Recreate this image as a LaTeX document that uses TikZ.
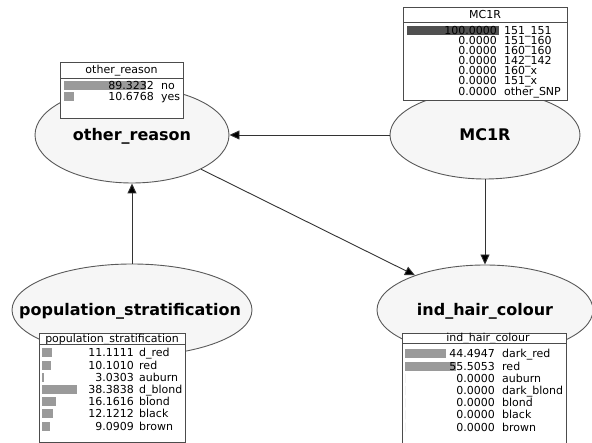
\documentclass[tikz,border=0pt]{standalone}
\usepackage{fontspec}
\setmainfont{DejaVu Sans}
\usepackage{tikz}
\usetikzlibrary{arrows.meta,shapes.geometric}
\tikzset{>={Triangle[length=10pt,width=9pt]}}
\definecolor{varfill}{HTML}{F6F6F6}
\definecolor{barfill}{HTML}{9A9A9A}
\definecolor{evidfill}{HTML}{505050}
\tikzset{
  var/.style={ellipse, draw=black!65, fill=varfill, line width=0.9pt, inner sep=0pt},
  varname/.style={anchor=base, inner sep=0pt, font=\bfseries\fontsize{16}{16}\selectfont},
  monitor/.style={rectangle, draw=black!70, fill=white, line width=0.9pt, anchor=north west, inner sep=0pt},
  mtitle/.style={anchor=base, inner sep=0pt, font=\fontsize{11}{11}\selectfont},
  mval/.style={anchor=base east, inner sep=0pt, font=\fontsize{11}{11}\selectfont},
  mstate/.style={anchor=base west, inner sep=0pt, font=\fontsize{11}{11}\selectfont},
  link/.style={draw=black!80, line width=0.9pt, ->},
}
\begin{document}
\begin{tikzpicture}[x=1pt,y=-1pt]
  \useasboundingbox (0,0) rectangle (592,443);
  \clip (0,0) rectangle (592,443);

  % variables
  \node[var, minimum width=194pt, minimum height=96pt] (orsn) at (132,135) {};
  \node[var, minimum width=190pt, minimum height=88pt] (mc1r) at (485,135) {};
  \node[var, minimum width=240pt, minimum height=92pt] (pops) at (132,310) {};
  \node[var, minimum width=216pt, minimum height=90pt] (hair) at (485,310) {};
  \node[varname] (orsn-l) at (132,140.5) {other\_reason};
  \node[varname] (mc1r-l) at (485,140.5) {MC1R};
  \node[varname] (pops-l) at (130,315.5) {population\_stratification};
  \node[varname] (hair-l) at (485,315.5) {ind\_hair\_colour};

  % links
  \path[link] (mc1r) edge (orsn);
  \path[link] (pops) edge (orsn);
  \path[link] (orsn) edge (hair);
  \path[link] (mc1r) edge (hair);

  % monitor windows
  \begin{scope}[shift={(60,62)}]
    \node[monitor, minimum width=123pt, minimum height=56pt] (orbox) at (0,0) {};
    \node[mtitle] (ortitle) at (61.5,12) {other\_reason};
    \draw[black!70, line width=0.9pt] (0,16) -- (123,16);
    \foreach \p/\v/\s [count=\i from 0] in {89.3232/89.3232/no, 10.6768/10.6768/yes} {
      \fill[barfill] (4,{24+\i*11-4.5}) rectangle ({4+0.92*\p},{24+\i*11+4.5});
      \node[mval] (orv\i) at (94,{24+\i*11+4}) {\v};
      \node[mstate] (ors\i) at (101,{24+\i*11+4}) {\s};
    }
  \end{scope}

  \begin{scope}[shift={(403,7)}]
    \node[monitor, minimum width=164pt, minimum height=93pt] (mcbox) at (0,0) {};
    \node[mtitle] (mctitle) at (82,12) {MC1R};
    \draw[black!70, line width=0.9pt] (0,15) -- (164,15);
    \fill[evidfill] (4,{23.5-4.5}) rectangle (96,{23.5+4.5});
    \foreach \v/\s [count=\i from 0] in {100.0000/151\_151, 0.0000/151\_160, 0.0000/160\_160,
        0.0000/142\_142, 0.0000/160\_x, 0.0000/151\_x, 0.0000/other\_SNP} {
      \node[mval] (mcv\i) at (94,{23.5+\i*10.1+4}) {\v};
      \node[mstate] (mcs\i) at (101,{23.5+\i*10.1+4}) {\s};
    }
  \end{scope}

  \begin{scope}[shift={(39,333)}]
    \node[monitor, minimum width=146pt, minimum height=109pt] (popbox) at (0,0) {};
    \node[mtitle] (poptitle) at (73,9.5) {population\_stratification};
    \draw[black!70, line width=0.9pt] (0,11) -- (146,11);
    \foreach \p/\v/\s [count=\i from 0] in {11.1111/11.1111/d\_red, 10.1010/10.1010/red,
        3.0303/3.0303/auburn, 38.3838/38.3838/d\_blond, 16.1616/16.1616/blond,
        12.1212/12.1212/black, 9.0909/9.0909/brown} {
      \fill[barfill] (2.5,{20+\i*12.2-4.5}) rectangle ({2.5+0.92*\p},{20+\i*12.2+4.5});
      \node[mval] (popv\i) at (95,{20+\i*12.2+4}) {\v};
      \node[mstate] (pops\i) at (100,{20+\i*12.2+4}) {\s};
    }
  \end{scope}

  \begin{scope}[shift={(402,333)}]
    \node[monitor, minimum width=164pt, minimum height=120pt] (hairbox) at (0,0) {};
    \node[mtitle] (hairtitle) at (86,9) {ind\_hair\_colour};
    \draw[black!70, line width=0.9pt] (0,10) -- (164,10);
    \foreach \p/\v/\s [count=\i from 0] in {44.4947/44.4947/dark\_red, 55.5053/55.5053/red,
        0/0.0000/auburn, 0/0.0000/dark\_blond, 0/0.0000/blond, 0/0.0000/black, 0/0.0000/brown} {
      \fill[barfill] (3,{21+\i*12.2-4.5}) rectangle ({3+0.92*\p},{21+\i*12.2+4.5});
      \node[mval] (hairv\i) at (93,{21+\i*12.2+4}) {\v};
      \node[mstate] (hairs\i) at (100,{21+\i*12.2+4}) {\s};
    }
  \end{scope}
\end{tikzpicture}
\end{document}
